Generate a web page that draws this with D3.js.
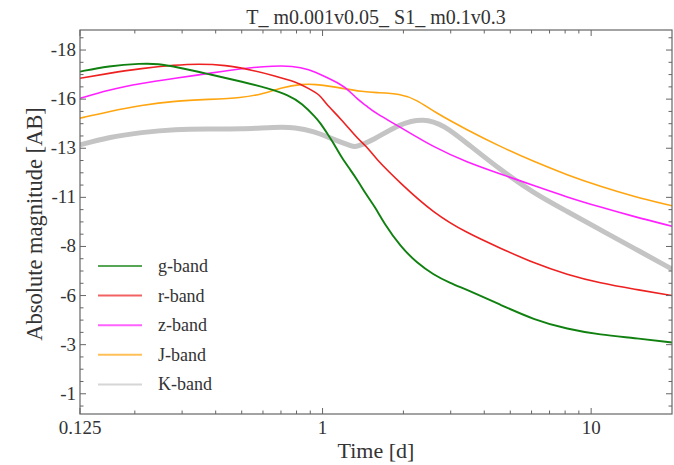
<!DOCTYPE html>
<html>
<head>
<meta charset="utf-8">
<script src="https://cdn.jsdelivr.net/npm/d3@7"></script>
<style>
  body { margin: 0; background: #fff; }
  svg text { font-family: "Liberation Serif", "DejaVu Serif", serif; fill: #333; }
</style>
</head>
<body>
<div id="c_plot"></div>
<script>
// light curves, [time in days, absolute magnitude]
var gBand = [[0.125,-16.90],[0.159,-17.19],[0.212,-17.32],[0.245,-17.30],[0.283,-17.15],[0.376,-16.78],[0.501,-16.39],
  [0.629,-16.05],[0.747,-15.71],[0.838,-15.29],[0.939,-14.6],[0.98,-14.3],[1.053,-13.65],[1.1,-13.25],[1.18,-12.5],
  [1.27,-11.9],[1.36,-11.3],[1.46,-10.6],[1.57,-10.0],[1.69,-9.2],[1.95,-8.0],[2.25,-7.15],[2.59,-6.56],[2.99,-6.13],
  [3.45,-5.79],[4.6,-5.03],[6.11,-4.27],[8.15,-3.79],[10.84,-3.50],[14.43,-3.34],[20,-3.11]];
var rBand = [[0.125,-16.56],[0.159,-16.81],[0.212,-17.07],[0.283,-17.24],[0.345,-17.30],[0.434,-17.24],[0.546,-16.98],
  [0.666,-16.68],[0.791,-16.39],[0.887,-16.05],[0.98,-15.71],[1.024,-15.29],[1.17,-14.5],[1.362,-13.42],[1.464,-13.08],
  [1.572,-12.49],[1.948,-11.22],[2.593,-9.69],[3.453,-8.68],[4.596,-7.91],[6.114,-7.15],[8.146,-6.56],[10.84,-6.13],
  [14.43,-5.83],[20,-5.50]];
var zBand = [[0.125,-15.54],[0.159,-15.97],[0.212,-16.31],[0.283,-16.56],[0.376,-16.81],[0.501,-17.07],[0.666,-17.20],
  [0.769,-17.19],[0.887,-17.03],[1.024,-16.64],[1.18,-16.22],[1.247,-15.97],[1.36,-15.45],[1.46,-15.15],[1.57,-14.80],
  [1.95,-14.07],[2.59,-13.05],[3.45,-12.29],[4.6,-11.69],[6.11,-11.10],[8.15,-10.51],[10.84,-10.00],[14.43,-9.52],[20,-9.03]];
var jBand = [[0.125,-14.53],[0.159,-14.86],[0.212,-15.20],[0.283,-15.41],[0.376,-15.49],[0.501,-15.57],[0.594,-15.75],
  [0.706,-16.10],[0.838,-16.27],[0.939,-16.26],[1.099,-16.13],[1.181,-16.05],[1.41,-15.88],[1.572,-15.83],[1.948,-15.78],
  [2.248,-15.46],[2.593,-14.86],[3.453,-13.93],[4.596,-13.08],[6.114,-12.32],[8.146,-11.64],[10.84,-11.05],[14.43,-10.54],[20,-10.07]];
var kBand = [[0.125,-13.17],[0.159,-13.56],[0.212,-13.81],[0.283,-13.97],[0.376,-13.98],[0.501,-13.98],[0.666,-14.07],
  [0.79,-14.07],[0.939,-13.84],[1.0385,-13.59],[1.115,-13.42],[1.30,-13.08],[1.324,-13.05],[1.549,-13.42],[1.948,-14.27],
  [2.379,-14.53],[2.825,-14.19],[3.453,-13.25],[4.596,-11.90],[6.114,-10.71],[8.146,-9.78],[10.84,-8.84],[14.43,-7.91],[20,-6.85]];

var bandNames = ["g-band", "r-band", "z-band", "J-band", "K-band"];
var bandColors = ["#108010", "#ee2020", "#ff20ff", "#ffa510", "#c4c4c4"];
var bandData = [gBand, rBand, zBand, jBand, kBand];

var xTicks = [0.125, 1, 10];
var xTickLabels = ["0.125", "1", "10"];
var yTicks = [-18, -15.5, -13, -10.5, -8, -5.5, -3, -0.5];
var yTickLabels = ["-18", "-16", "-13", "-11", "-8", "-6", "-3", "-1"];
var title = "T_ m0.001v0.05_ S1_ m0.1v0.3";

var W = 674, H = 465;
var margin = { top: 30, right: 2, bottom: 51, left: 80 };
var width = W - margin.left - margin.right,
  height = H - margin.top - margin.bottom;

var svg = d3.select("#c_plot").append("svg")
  .attr("width", W).attr("height", H);
var g = svg.append("g")
  .attr("transform", "translate(" + margin.left + "," + margin.top + ")");

var x = d3.scaleLog().domain([0.125, 20]).range([0, width]);
var y = d3.scaleLinear().domain([-19.02, 0.53]).range([0, height]);

var line = d3.line()
  .x(d => x(d[0]))
  .y(d => y(d[1]))
  .curve(d3.curveBasis);

g.append("defs").append("clipPath").attr("id", "clip")
  .append("rect").attr("width", width).attr("height", height);

var lines = g.append("g").attr("clip-path", "url(#clip)");
// K band drawn first, thick and grey
for (var i = bandData.length - 1; i >= 0; i--) {
  lines.append("path")
    .attr("d", line(bandData[i]))
    .attr("fill", "none")
    .attr("stroke", bandColors[i])
    .attr("stroke-width", i == 4 ? 5 : (i == 0 ? 1.9 : 1.6))
    .attr("stroke-linejoin", "round");
}

// frame and ticks
var axisColor = "#666";
var xMinor = [];
[0.1, 1, 10].forEach(function(dec) {
  for (var k = 2; k <= 9; k++) {
    var v = dec * k;
    if (v > 0.125 && v < 20 && v != 1 && v != 10) xMinor.push(v);
  }
});
var yMinor = [];
for (var v = -18.625; v <= 0.5; v += 0.625) {
  if (v >= -19.02 && v <= 0.53) yMinor.push(v);
}

var ticks = g.append("g").attr("stroke", axisColor).attr("stroke-width", 1);
xTicks.concat(xMinor).forEach(function(v) {
  var len = xTicks.indexOf(v) >= 0 ? 6 : 3.5;
  ticks.append("line").attr("x1", x(v)).attr("x2", x(v)).attr("y1", height).attr("y2", height - len);
  ticks.append("line").attr("x1", x(v)).attr("x2", x(v)).attr("y1", 0).attr("y2", len);
});
yMinor.forEach(function(v) {
  var len = yTicks.some(t => Math.abs(t - v) < 1e-6) ? 6 : 3.5;
  ticks.append("line").attr("x1", 0).attr("x2", len).attr("y1", y(v)).attr("y2", y(v));
  ticks.append("line").attr("x1", width).attr("x2", width - len).attr("y1", y(v)).attr("y2", y(v));
});

g.append("rect")
  .attr("width", width).attr("height", height)
  .attr("fill", "none").attr("stroke", axisColor).attr("stroke-width", 1.2);

// tick labels
xTicks.forEach(function(v, i) {
  g.append("text")
    .attr("x", x(v)).attr("y", height + 20)
    .attr("text-anchor", "middle")
    .style("font-size", "19px")
    .text(xTickLabels[i]);
});
yTicks.forEach(function(v, i) {
  g.append("text")
    .attr("x", -4).attr("y", y(v) + 6)
    .attr("text-anchor", "end")
    .style("font-size", "19px")
    .text(yTickLabels[i]);
});

// axis titles
svg.append("text")
  .attr("x", margin.left + width / 2).attr("y", 458)
  .attr("text-anchor", "middle")
  .style("font-size", "22px")
  .text("Time [d]");
svg.append("text")
  .attr("transform", "translate(42," + (margin.top + height / 2 + 2) + ") rotate(-90)")
  .attr("text-anchor", "middle")
  .style("font-size", "22.5px")
  .text("Absolute magnitude [AB]");
svg.append("text")
  .attr("x", margin.left + width / 2).attr("y", 24)
  .attr("text-anchor", "middle")
  .style("font-size", "20px")
  .text(title);

// legend
var legend = svg.append("g").attr("transform", "translate(98,266)");
bandNames.forEach(function(name, i) {
  var row = legend.append("g").attr("transform", "translate(0," + (i * 29.6) + ")");
  row.append("line")
    .attr("x1", 0).attr("x2", 44).attr("y1", 0).attr("y2", 0)
    .attr("stroke", bandColors[i]).attr("stroke-width", 2)
    .attr("stroke-opacity", 0.7);
  row.append("text")
    .attr("x", 60).attr("y", 6)
    .style("font-size", "18px")
    .text(name);
});
</script>
</body>
</html>
